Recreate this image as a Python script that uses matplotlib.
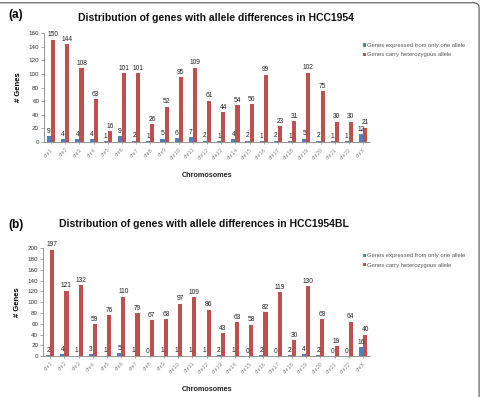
import numpy as np
import matplotlib.pyplot as plt
from matplotlib.patches import FancyBboxPatch

plt.rcParams['font.family'] = ['Liberation Sans', 'DejaVu Sans']

chroms = ["chr1", "chr2", "chr3", "chr4", "chr5", "chr6", "chr7", "chr8",
          "chr9", "chr10", "chr11", "chr12", "chr13", "chr14", "chr15",
          "chr16", "chr17", "chr18", "chr19", "chr20", "chr21", "chr22", "chrX"]

one_allele_a = [9, 4, 4, 4, 1, 9, 2, 1, 5, 6, 7, 2, 1, 4, 2, 1, 2, 1, 5, 2, 1, 1, 12]
hetero_a = [150, 144, 108, 63, 16, 101, 101, 26, 52, 95, 109, 61, 44, 54, 56,
            99, 23, 31, 102, 75, 30, 30, 21]

one_allele_b = [2, 4, 1, 3, 1, 5, 1, 0, 1, 1, 1, 1, 2, 1, 0, 2, 0, 2, 4, 2, 0, 0, 16]
hetero_b = [197, 121, 132, 59, 76, 110, 79, 67, 68, 97, 109, 86, 43, 63, 58,
            82, 119, 30, 130, 69, 19, 64, 40]

BLUE = "#4F81BD"
RED = "#C0504D"
GRID = "#868686"


def draw_panel(fig, rect, blue, red, ymax, ystep, title, tag, title_x, title_y,
               tag_y, leg_y, xlab_y):
    ax = fig.add_axes(rect)
    x = np.arange(len(chroms))
    w = 0.29
    ax.bar(x - w / 2, blue, w, color=BLUE, label="Genes expressed from only one allele")
    ax.bar(x + w / 2, red, w, color=RED, label="Genes carry heterozygous allele")

    for xi, v in zip(x, blue):
        ax.text(xi - w / 2, v + ymax * 0.012, str(v), ha="center", va="bottom",
                fontsize=4.8, color="#222222")
    for xi, v in zip(x, red):
        ax.text(xi + w / 2, v + ymax * 0.012, str(v), ha="center", va="bottom",
                fontsize=4.8, color="#222222")

    ax.set_xlim(-0.5, len(chroms) - 0.5)
    ax.set_ylim(0, ymax)
    ax.set_yticks(np.arange(0, ymax + 1, ystep))
    ax.set_xticks(x)
    ax.set_xticklabels(chroms, rotation=45, ha="right", rotation_mode="anchor",
                       fontsize=4.0, color="#8a8a8a")
    ax.tick_params(axis="y", labelsize=4.5, length=2, width=0.5, color=GRID,
                   labelcolor="#333333", pad=1.5)
    ax.tick_params(axis="x", length=1.5, width=0.5, color=GRID, pad=2)
    for s in ["top", "right"]:
        ax.spines[s].set_visible(False)
    for s in ["left", "bottom"]:
        ax.spines[s].set_color(GRID)
        ax.spines[s].set_linewidth(0.6)

    ax.set_ylabel("# Genes", fontsize=5.5, fontweight="bold", labelpad=5)
    fig.text(0.43, xlab_y, "Chromosomes", ha="center", va="center",
             fontsize=5.2, fontweight="bold", color="#222222")
    fig.text(title_x, title_y, title, ha="center", va="center", fontsize=7.5,
             fontweight="bold", color="#111111")
    fig.text(0.017, tag_y, tag, ha="left", va="center", fontsize=8.5,
             fontweight="bold")
    handles, labels = ax.get_legend_handles_labels()
    fig.legend(handles=handles, labels=labels,
               loc="upper left", bbox_to_anchor=(0.743, leg_y), frameon=False,
               fontsize=4.2, handlelength=0.5, handleheight=0.5,
               handletextpad=0.3, labelspacing=0.75, labelcolor="#555555")
    return ax


fig = plt.figure(figsize=(4.81, 3.97), dpi=100)

draw_panel(fig, [0.0915, 0.642, 0.678, 0.275], one_allele_a, hetero_a, 160, 20,
           "Distribution of genes with allele differences in HCC1954", "(a)",
           0.448, 0.955, 0.962, 0.905, 0.559)
draw_panel(fig, [0.0895, 0.103, 0.680, 0.272], one_allele_b, hetero_b, 200, 20,
           "Distribution of genes with allele differences in HCC1954BL", "(b)",
           0.425, 0.435, 0.432, 0.375, 0.02)

# outer frame (top and right edge with rounded corner)
frame = FancyBboxPatch((-0.05, -0.05), 1.046, 1.043,
                       boxstyle="round,pad=0,rounding_size=0.012",
                       transform=fig.transFigure, fill=False,
                       edgecolor="#555555", linewidth=0.8)
fig.patches.append(frame)

fig.savefig("out.png", dpi=100)
